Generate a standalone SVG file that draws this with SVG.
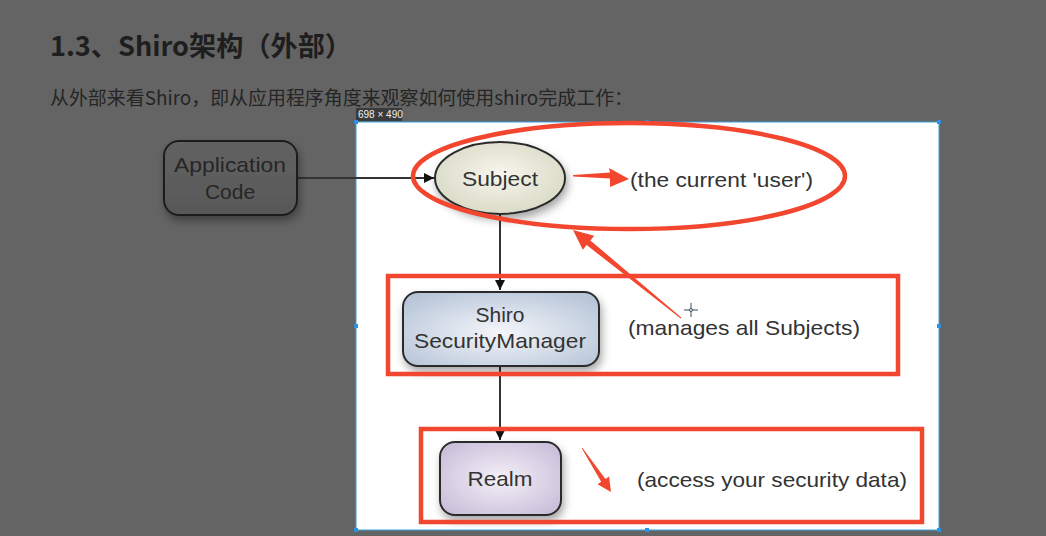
<svg xmlns="http://www.w3.org/2000/svg" width="1046" height="536" viewBox="0 0 1046 536">
<defs>
<style>
.lbl{font-family:"Liberation Sans",Arial,sans-serif;font-size:21px;fill:#333;}
.dim{font-family:"Liberation Sans",Arial,sans-serif;font-size:21px;fill:#262626;}
.red{fill:none;stroke:#f2462f;stroke-width:4.5;}
.redf{fill:#f2462f;}
.edge{stroke:#333;stroke-width:2;fill:none;}
.node{stroke:#2c2c2c;stroke-width:2;}
.handle{fill:#2f8fe0;}
</style>
<radialGradient id="gSubj" cx="50%" cy="45%" r="60%"><stop offset="0" stop-color="#f6f6ee"/><stop offset="1" stop-color="#d8d8c4"/></radialGradient>
<radialGradient id="gSM" cx="50%" cy="55%" r="65%"><stop offset="0" stop-color="#f4f6fa"/><stop offset="1" stop-color="#b7c5d8"/></radialGradient>
<radialGradient id="gRealm" cx="50%" cy="50%" r="65%"><stop offset="0" stop-color="#f4f0f8"/><stop offset="1" stop-color="#c8bcd8"/></radialGradient>
<linearGradient id="gApp" x1="0" y1="0" x2="0" y2="1"><stop offset="0" stop-color="#626262"/><stop offset="1" stop-color="#585858"/></linearGradient>
<filter id="sh" x="-20%" y="-20%" width="150%" height="160%"><feDropShadow dx="2" dy="5" stdDeviation="4" flood-color="#000" flood-opacity="0.35"/></filter>
<marker id="ah" viewBox="0 0 10 10" refX="10" refY="5" markerWidth="5" markerHeight="5" orient="auto"><path d="M0,0 L10,5 L0,10 z" fill="#111"/></marker>
</defs>
<rect x="0" y="0" width="1046" height="536" fill="#646464"/>
<text x="50" y="56" font-family="'Noto Sans CJK SC','Noto Sans',sans-serif" font-size="27" font-weight="bold" fill="#1e1e1e" textLength="302" lengthAdjust="spacingAndGlyphs">1.3、Shiro架构（外部）</text>
<text x="50" y="105" font-family="'Noto Sans CJK SC','Noto Sans',sans-serif" font-size="19" fill="#252525" textLength="583" lengthAdjust="spacingAndGlyphs">从外部来看Shiro，即从应用程序角度来观察如何使用shiro完成工作：</text>
<rect x="356" y="108" width="46" height="13" fill="#3a3a3a"/>
<text x="358" y="118" font-family="'Liberation Sans',Arial,sans-serif" font-size="10" fill="#f0f0f0">698 × 490</text>
<rect x="356" y="122" width="583" height="408" fill="#ffffff" stroke="#3a9ee0" stroke-width="1"/>
<g id="handles">
<rect class="handle" x="354" y="120" width="4" height="4"/><rect class="handle" x="645" y="120" width="4" height="4"/><rect class="handle" x="937" y="120" width="4" height="4"/>
<rect class="handle" x="354" y="324" width="4" height="4"/><rect class="handle" x="937" y="324" width="4" height="4"/>
<rect class="handle" x="354" y="528" width="4" height="4"/><rect class="handle" x="645" y="528" width="4" height="4"/><rect class="handle" x="937" y="528" width="4" height="4"/>
</g>
<g id="connectors">
<line class="edge" x1="297" y1="178" x2="434" y2="178" stroke="#1e1e1e" marker-end="url(#ah)"/>
<line class="edge" x1="500" y1="214" x2="500" y2="290" marker-end="url(#ah)"/>
<line class="edge" x1="500" y1="366" x2="500" y2="440" marker-end="url(#ah)"/>
</g>
<g id="app-code">
<rect x="164" y="141" width="133" height="74" rx="15" fill="url(#gApp)" stroke="#1e1e1e" stroke-width="2" filter="url(#sh)"/>
<text class="dim" x="230" y="172" text-anchor="middle" textLength="112" lengthAdjust="spacingAndGlyphs">Application</text>
<text class="dim" x="230" y="199" text-anchor="middle">Code</text>
</g>
<g id="subject">
<ellipse cx="500" cy="178" rx="65" ry="36" fill="url(#gSubj)" class="node" filter="url(#sh)"/>
<text class="lbl" x="500" y="186" text-anchor="middle" textLength="76" lengthAdjust="spacingAndGlyphs">Subject</text>
</g>
<g id="security-manager">
<rect x="403" y="292" width="196" height="74" rx="15" fill="url(#gSM)" class="node" filter="url(#sh)"/>
<text class="lbl" x="500" y="322" text-anchor="middle">Shiro</text>
<text class="lbl" x="500" y="348" text-anchor="middle" textLength="172" lengthAdjust="spacingAndGlyphs">SecurityManager</text>
</g>
<g id="realm">
<rect x="440" y="442" width="121" height="73" rx="15" fill="url(#gRealm)" class="node" filter="url(#sh)"/>
<text class="lbl" x="500" y="486" text-anchor="middle" textLength="65" lengthAdjust="spacingAndGlyphs">Realm</text>
</g>
<g id="notes">
<text class="lbl" x="630" y="187" textLength="183" lengthAdjust="spacingAndGlyphs">(the current 'user')</text>
<text class="lbl" x="628" y="335" textLength="232" lengthAdjust="spacingAndGlyphs">(manages all Subjects)</text>
<text class="lbl" x="637" y="487" textLength="270" lengthAdjust="spacingAndGlyphs">(access your security data)</text>
</g>
<g id="annotations">
<ellipse class="red" cx="629" cy="176" rx="216" ry="53"/>
<rect class="red" x="388" y="276" width="510" height="98" stroke-width="5"/>
<rect class="red" x="421" y="429" width="501" height="93" stroke-width="5"/>
<path class="redf" d="M573,175 L610,172.5 L609,168 L629,179 L610,187 L610,178.5 L573,176.5 z"/>
<path class="redf" d="M681.3,317.6 L590.4,240.4 L594.2,235.7 L573,230 L582.8,249.7 L586.6,245 L680.7,318.4 z"/>
<path class="redf" d="M582.3,447.8 L605.4,478.9 L609.1,476.4 L611,492 L597.5,484.2 L601.2,481.7 L581.7,448.2 z"/>
</g>
<g id="cursor" stroke="#3a4a5a" stroke-width="1">
<line x1="684" y1="310" x2="698" y2="310"/><line x1="691" y1="303" x2="691" y2="317"/>
<circle cx="691" cy="310" r="1.5" fill="#fff"/>
</g>
</svg>
